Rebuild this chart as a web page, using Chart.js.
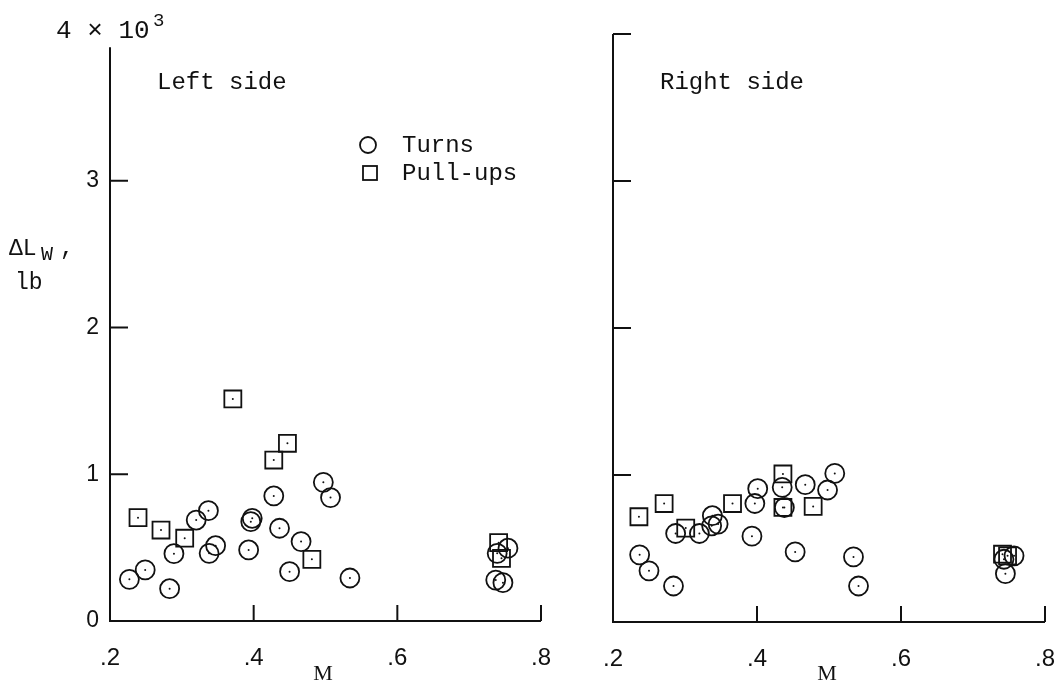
<!DOCTYPE html>
<html>
<head>
<meta charset="utf-8">
<script src="https://cdn.jsdelivr.net/npm/chart.js@4.4.0/dist/chart.umd.min.js"></script>
<style>
    html, body { margin: 0; padding: 0; background: #fff; }
    #wrap { position: relative; width: 1060px; height: 687px; overflow: hidden; }
    #leftCanvas { position: absolute; left: 0; top: 0; }
    #rightCanvas { position: absolute; left: 560px; top: 0; }
</style>
</head>
<body>
<div id="wrap">
    <canvas id="leftCanvas" width="580" height="687"></canvas>
    <canvas id="rightCanvas" width="500" height="687"></canvas>
</div>
<script>
// Wing load increment vs Mach number, lb
const xTicks = [0.2, 0.4, 0.6, 0.8];
const yTicks = [0, 1000, 2000, 3000, 4000];

// Left side
const leftTurnsM = [0.227, 0.249, 0.283, 0.289, 0.320, 0.337, 0.338, 0.347, 0.393, 0.396, 0.398,
    0.428, 0.436, 0.450, 0.466, 0.497, 0.507, 0.534, 0.739, 0.754, 0.737, 0.747];
const leftTurnsL = [284, 348, 220, 459, 688, 752, 461, 513, 484, 677, 700,
    852, 632, 336, 541, 945, 841, 293, 461, 496, 279, 261];
const leftPullM = [0.371, 0.447, 0.428, 0.239, 0.271, 0.304, 0.481, 0.741, 0.745];
const leftPullL = [1513, 1211, 1097, 704, 620, 564, 420, 534, 427];

// Right side
const rightTurnsM = [0.237, 0.250, 0.284, 0.287, 0.320, 0.338, 0.337, 0.346, 0.393, 0.397, 0.401,
    0.435, 0.438, 0.453, 0.467, 0.498, 0.508, 0.534, 0.541, 0.743, 0.757, 0.745];
const rightTurnsL = [457, 348, 245, 602, 602, 723, 654, 666, 584, 806, 907,
    916, 779, 477, 934, 898, 1011, 443, 245, 427, 450, 329];
const rightPullM = [0.236, 0.271, 0.301, 0.366, 0.436, 0.436, 0.478, 0.741, 0.748];
const rightPullL = [716, 806, 639, 806, 1007, 779, 786, 461, 450];

const INK = "#111";
const MONO = "'Liberation Mono', 'DejaVu Sans Mono', monospace";
const SANS = "'Liberation Sans', Arial, sans-serif";
const SERIF = "'Liberation Serif', 'DejaVu Serif', serif";

function toPoints(ms, ls) {
    return ms.map((m, i) => ({ x: m, y: ls[i] }));
}

function makeDatasets(turnsM, turnsL, pullM, pullL) {
    const common = {
        borderColor: INK,
        backgroundColor: "rgba(0,0,0,0)",
        borderWidth: 1.8,
        clip: false
    };
    return [
        Object.assign({ label: "Turns", data: toPoints(turnsM, turnsL), pointStyle: "circle", pointRadius: 9.5 }, common),
        Object.assign({ label: "Pull-ups", data: toPoints(pullM, pullL), pointStyle: "rect", pointRadius: 12 }, common)
    ];
}

// axis lines, inward tick marks, centre dots and the hand lettering
function panelPlugin(cfg) {
    return {
        id: "panelDecor",
        afterDatasetsDraw(chart) {
            const ctx = chart.ctx;
            const xs = chart.scales.x, ys = chart.scales.y;
            const x0 = xs.getPixelForValue(xTicks[0]);
            const y0 = ys.getPixelForValue(0);

            ctx.save();
            ctx.strokeStyle = INK;
            ctx.fillStyle = INK;
            ctx.lineWidth = 2;
            ctx.lineCap = "butt";

            // frame
            ctx.beginPath();
            ctx.moveTo(x0, ys.getPixelForValue(cfg.yAxisTop));
            ctx.lineTo(x0, y0);
            ctx.lineTo(xs.getPixelForValue(xTicks[xTicks.length - 1]), y0);
            ctx.stroke();

            // y ticks point into the plot
            cfg.yTickMarks.forEach(v => {
                const py = ys.getPixelForValue(v);
                ctx.beginPath();
                ctx.moveTo(x0, py);
                ctx.lineTo(x0 + 18, py);
                ctx.stroke();
            });
            // x ticks point up
            xTicks.slice(1).forEach(v => {
                const px = xs.getPixelForValue(v);
                ctx.beginPath();
                ctx.moveTo(px, y0);
                ctx.lineTo(px, y0 - 16);
                ctx.stroke();
            });

            // small dot in the middle of every symbol
            chart.data.datasets.forEach((ds, i) => {
                chart.getDatasetMeta(i).data.forEach(pt => {
                    ctx.beginPath();
                    ctx.arc(pt.x, pt.y, 1, 0, Math.PI * 2);
                    ctx.fill();
                });
            });

            ctx.textBaseline = "middle";
            ctx.textAlign = "left";
            ctx.font = "24px " + MONO;
            ctx.fillText(cfg.title, cfg.titleX, 83);

            ctx.font = "22px " + SERIF;
            ctx.textAlign = "center";
            ctx.fillText("M", cfg.mX, 674);

            if (cfg.legend) {
                ctx.lineWidth = 1.8;
                ctx.beginPath();
                ctx.arc(368, 145, 8, 0, Math.PI * 2);
                ctx.stroke();
                ctx.strokeRect(363, 166, 14, 14);
                ctx.textAlign = "left";
                ctx.font = "24px " + MONO;
                ctx.fillText(chart.data.datasets[0].label, 402, 146);
                ctx.fillText(chart.data.datasets[1].label, 402, 174);
            }

            if (cfg.axisTitle) {
                ctx.textAlign = "left";
                ctx.font = "26px " + MONO;
                ctx.fillText("4 \u00d7 10", 56, 31);
                ctx.font = "19px " + MONO;
                ctx.fillText("3", 153, 21);

                ctx.font = "23px " + MONO;
                ctx.fillText("\u0394L", 9, 249);
                ctx.font = "20px " + MONO;
                ctx.fillText("W", 41, 255);
                ctx.font = "23px " + MONO;
                ctx.fillText(",", 60, 249);
                ctx.fillText("lb", 15, 283);
            }
            ctx.restore();
        }
    };
}

function makeChart(canvasId, datasets, opts) {
    return new Chart(document.getElementById(canvasId), {
        type: "scatter",
        data: { datasets: datasets },
        options: {
            responsive: false,
            animation: false,
            events: [],
            layout: { padding: { left: 0, right: opts.padRight, top: 34, bottom: 0 } },
            plugins: { legend: { display: false }, tooltip: { enabled: false } },
            scales: {
                x: {
                    type: "linear",
                    min: xTicks[0],
                    max: xTicks[xTicks.length - 1],
                    afterBuildTicks: scale => { scale.ticks = xTicks.map(v => ({ value: v })); },
                    grid: { display: false, drawTicks: false },
                    border: { display: false },
                    ticks: {
                        color: INK,
                        font: { family: SANS, size: 24 },
                        padding: 23,
                        maxRotation: 0,
                        autoSkip: false,
                        callback: v => "." + Math.round(v * 10)
                    },
                    afterFit: scale => {
                        scale.height = opts.xHeight;
                        scale.paddingLeft = 0;
                        scale.paddingRight = 0;
                    }
                },
                y: {
                    type: "linear",
                    min: yTicks[0],
                    max: yTicks[yTicks.length - 1],
                    afterBuildTicks: scale => { scale.ticks = yTicks.map(v => ({ value: v })); },
                    grid: { display: false, drawTicks: false },
                    border: { display: false },
                    ticks: {
                        display: opts.yLabels,
                        color: INK,
                        font: { family: SANS, size: 23 },
                        padding: 11,
                        callback: v => (v === 4000 ? "" : String(v / 1000))
                    },
                    afterFit: scale => {
                        scale.width = opts.yWidth;
                        scale.paddingTop = 0;
                        scale.paddingBottom = 0;
                    }
                }
            }
        },
        plugins: [panelPlugin(opts.decor)]
    });
}

makeChart("leftCanvas", makeDatasets(leftTurnsM, leftTurnsL, leftPullM, leftPullL), {
    padRight: 39, xHeight: 66, yWidth: 110, yLabels: true,
    decor: { title: "Left side", titleX: 157, mX: 323, yAxisTop: 3910, yTickMarks: [1000, 2000, 3000], legend: true, axisTitle: true }
});

makeChart("rightCanvas", makeDatasets(rightTurnsM, rightTurnsL, rightPullM, rightPullL), {
    padRight: 15, xHeight: 65, yWidth: 53, yLabels: false,
    decor: { title: "Right side", titleX: 100, mX: 267, yAxisTop: 4000, yTickMarks: [1000, 2000, 3000, 4000], legend: false, axisTitle: false }
});
</script>
</body>
</html>
